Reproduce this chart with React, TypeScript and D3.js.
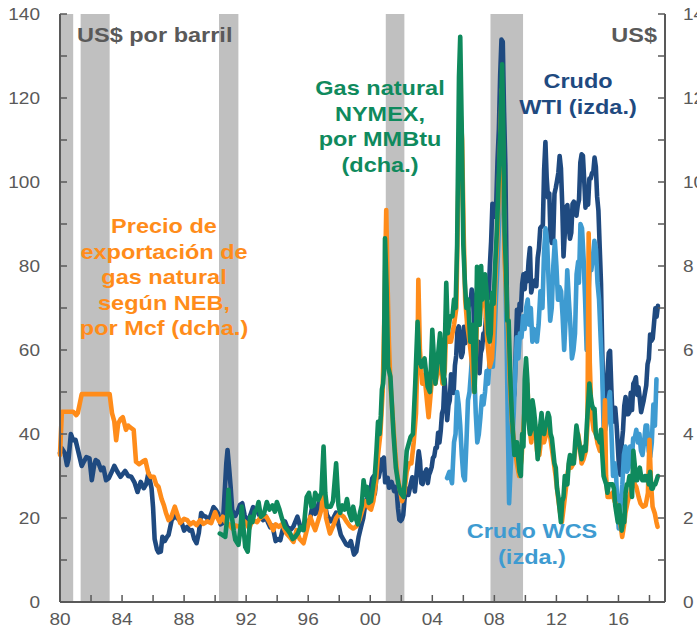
import React from "react";
import * as d3 from "d3";

// ---------- DATA ----------
// WTI crude, US$/bbl (left axis)
const wtiEarly: [number, number][] = [
  [1980.0,35.5],[1980.1,36.7],[1980.3,35.5],[1980.45,32.6],[1980.55,34],[1980.7,40],[1980.85,38.5],[1981.0,38.6],
  [1981.2,35.5],[1981.4,32.4],[1981.55,33.5],[1981.7,34.5],[1981.9,34.2],[1982.05,29],[1982.2,32.5],[1982.3,33.8],
  [1982.45,33.4],[1982.65,31.4],[1982.8,32],[1982.97,29],[1983.15,29.5],[1983.3,30.7],[1983.5,32.4],[1983.7,31],
  [1983.9,29.8],[1984.05,30.5],[1984.2,31.2],[1984.4,30],[1984.6,29.8],[1984.8,28.5],[1985.0,26.2],[1985.2,28.6],
  [1985.4,27.1],[1985.55,28],[1985.7,30.7],[1985.9,27.1],[1986.0,22.5],[1986.1,15],[1986.25,12.5],[1986.35,11.8],
  [1986.5,12],[1986.6,15.5],[1986.75,14.5],[1986.9,15.5],[1987.0,16],[1987.2,19.5],[1987.4,20.5],[1987.55,20],
  [1987.7,19.5],[1987.85,18.8],[1988.0,17],[1988.2,17.9],[1988.35,17],[1988.5,17.1],[1988.65,15],[1988.8,14],
  [1988.95,16.5],[1989.1,21.2],[1989.25,20.5],[1989.4,20.3],[1989.6,19.5],[1989.75,21],[1989.9,22.6],[1990.05,21.9],
  [1990.2,21],[1990.35,18.5],[1990.5,18.8],[1990.6,25],[1990.72,33],[1990.8,36.2],[1990.9,32],[1991.0,27.4],
  [1991.1,21.9],[1991.3,20.5],[1991.45,21.5],[1991.6,23.1],[1991.75,23.5],[1991.9,20.7],[1992.05,18.8],[1992.15,19.5],
  [1992.3,21],[1992.45,22.6],[1992.6,21.8],[1992.75,21.4],[1992.9,20.3],[1993.1,19.5],[1993.25,20.5],[1993.4,19],
  [1993.55,17.8],[1993.7,18.2],[1993.9,14.5],[1994.05,15],[1994.2,14.7],[1994.4,18],[1994.5,19.2],[1994.65,17.8],
  [1994.9,17.3],[1995.05,18],[1995.3,20.3],[1995.5,17.8],[1995.6,17.3],[1995.8,17.8],[1995.95,19.2],[1996.1,19.5],
  [1996.3,23.5],[1996.45,21],[1996.55,21.3],[1996.75,24.8],[1996.9,25.3],[1997.0,25],[1997.2,20.8],[1997.45,19.2],
  [1997.6,19.8],[1997.8,21.3],[1997.95,18.3],[1998.1,16],[1998.25,15],[1998.45,13.7],[1998.6,13.4],[1998.75,14.5],
  [1998.95,11.3],[1999.1,12],[1999.25,15.5],[1999.4,17.8],[1999.55,20],[1999.7,23.9],[1999.85,25],
];
// WTI monthly from Jan 2000
const wtiMonthlyFrom2000: number[] = [
  27.3,29.4,29.9,25.7,28.8,31.8,29.7,31.2,33.9,33.1,34.4,28.5,
  29.6,29.6,27.2,27.4,28.6,27.6,26.4,27.4,26.2,22.2,19.6,19.3,
  19.7,20.7,24.4,26.2,27.0,25.5,26.9,28.4,29.7,28.9,26.3,29.4,
  32.9,35.9,33.6,28.3,28.1,30.7,30.8,31.6,28.3,30.3,31.1,32.1,
  34.3,34.7,36.7,36.7,40.3,38.0,40.7,44.9,45.9,53.1,48.5,43.3,
  46.8,48.0,54.2,53.0,49.8,56.3,58.7,65.0,65.6,62.4,58.3,59.4,
  65.5,61.6,62.9,69.7,70.9,71.0,74.4,73.0,63.8,58.9,59.1,62.0,
  54.5,59.3,60.4,63.9,63.5,67.5,74.1,72.4,79.9,85.8,94.8,91.7,
  93.0,95.4,105.5,112.6,125.4,133.9,133.4,116.7,104.1,76.6,57.3,41.1,
  41.7,39.1,47.9,49.6,59.0,69.6,64.1,71.0,69.4,75.7,78.0,74.5,
  78.3,76.4,81.2,84.3,73.7,75.3,76.3,76.6,75.2,81.9,84.2,89.0,
  89.4,89.6,102.9,109.5,100.9,96.3,97.3,86.3,85.5,86.3,97.2,98.6,
  100.3,102.2,106.2,103.3,94.7,82.3,87.9,94.1,94.5,89.5,86.5,87.9,
  94.8,95.3,92.9,92.0,94.5,95.8,104.6,106.6,106.3,100.5,93.9,97.6,
  94.6,100.8,100.8,102.1,102.2,105.8,103.6,96.5,93.2,84.4,75.8,59.3,
  47.2,50.6,47.8,54.5,59.3,59.8,50.9,42.9,45.5,46.2,42.4,37.2,
  31.7,30.3,37.6,40.8,46.7,48.8,44.7,44.7,45.2,49.8,45.7,52.0,
  52.5,53.5,49.3,51.1,48.5,45.2,46.6,48.0,49.8,51.6,56.6,57.9,
  63.7,62.2,62.7,66.3,69.9,67.9,70.5,
];

// WCS crude, US$/bbl (left axis)
const wcs: [number, number][] = [
  [2004.95,29.5],[2005.1,31],[2005.27,28.3],[2005.4,38],[2005.5,40],[2005.6,50],[2005.7,47],[2005.8,42],[2005.9,35],
  [2006.0,30],[2006.1,29],[2006.2,38],[2006.3,48],[2006.4,50],[2006.5,55],[2006.6,62],[2006.7,56],[2006.8,45],
  [2006.9,38],[2007.0,40],[2007.1,44],[2007.2,49],[2007.3,47],[2007.4,50],[2007.5,55],[2007.6,52],[2007.7,58],
  [2007.8,60],[2007.9,56],[2008.0,62],[2008.1,72],[2008.2,80],[2008.3,90],[2008.4,100],[2008.5,104],[2008.6,95],
  [2008.7,80],[2008.8,60],[2008.87,42],[2008.95,23.5],[2009.05,32],[2009.15,38],[2009.25,45],[2009.35,55],
  [2009.45,63],[2009.55,58],[2009.65,64],[2009.75,63],[2009.85,68],[2009.95,65],[2010.05,70],[2010.15,72],
  [2010.25,66],[2010.35,70],[2010.45,62],[2010.55,65],[2010.65,64],[2010.75,62],[2010.85,66],[2010.97,74],
  [2011.1,70],[2011.2,83],[2011.3,89],[2011.4,86],[2011.5,76],[2011.6,67],[2011.7,70],[2011.8,80],[2011.9,86],
  [2012.0,80],[2012.1,72],[2012.2,75],[2012.3,74],[2012.4,68],[2012.5,60],[2012.6,68],[2012.7,79],[2012.8,72],
  [2012.9,66],[2013.0,58],[2013.1,60],[2013.2,64],[2013.3,78],[2013.4,81],[2013.45,76],[2013.55,90],[2013.65,89],
  [2013.75,82],[2013.85,72],[2013.95,60],[2014.05,72],[2014.15,80],[2014.25,79],[2014.35,82],[2014.45,86],
  [2014.55,84],[2014.65,76],[2014.75,72],[2014.85,63],[2014.95,55],[2015.05,40],[2015.15,41],[2015.25,43],
  [2015.35,48],[2015.45,50],[2015.55,40],[2015.65,30],[2015.75,33],[2015.85,30],[2015.95,21],[2016.02,17.5],
  [2016.15,23.5],[2016.25,28],[2016.35,35],[2016.45,37],[2016.55,31],[2016.65,32],[2016.75,37],[2016.85,33],
  [2016.95,39],[2017.05,39],[2017.15,41],[2017.25,38],[2017.35,40],[2017.45,36],[2017.55,35],[2017.65,38],
  [2017.75,42],[2017.85,42],[2017.95,36],[2018.05,34.6],[2018.15,38],[2018.25,47],[2018.35,42],[2018.45,53],
];

// NYMEX natural gas, US$/MMBtu (right axis)
const nymexEarly: [number, number][] = [
  [1990.3,1.63],[1990.45,1.6],[1990.65,1.55],[1990.78,2.0],[1990.86,2.67],[1990.95,2.2],[1991.08,2.03],[1991.2,1.7],
  [1991.3,1.48],[1991.5,1.36],[1991.62,1.7],[1991.72,2.27],[1991.82,1.8],[1991.94,1.31],[1992.1,1.2],[1992.26,2.03],
  [1992.4,1.9],[1992.55,2.15],[1992.68,2.2],[1992.8,2.38],[1992.95,2.03],[1993.15,2.1],[1993.33,2.38],[1993.5,2.2],
  [1993.7,2.3],[1993.85,2.15],[1993.98,2.38],[1994.15,2.2],[1994.3,2.0],[1994.5,1.79],[1994.7,1.7],[1994.84,1.63],
  [1995.0,1.5],[1995.16,1.55],[1995.35,1.65],[1995.5,1.79],[1995.7,1.71],[1995.9,2.5],[1996.05,2.6],[1996.2,2.27],
  [1996.35,2.3],[1996.45,2.6],[1996.65,2.43],[1996.85,2.6],[1996.99,3.7],[1997.1,2.6],[1997.2,2.27],[1997.45,2.27],
  [1997.6,2.4],[1997.8,3.3],[1997.95,2.3],[1998.06,2.12],[1998.2,2.3],[1998.35,2.2],[1998.5,2.45],[1998.65,2.12],
  [1998.8,1.95],[1998.9,2.27],[1999.03,2.03],[1999.2,1.85],[1999.35,2.15],[1999.45,2.3],[1999.57,2.9],[1999.7,2.55],
  [1999.8,2.74],[1999.9,2.36],[2000.05,2.4],[2000.2,2.8],[2000.3,3.04],[2000.4,3.6],[2000.5,4.29],[2000.6,4.0],
  [2000.68,4.43],[2000.75,5.06],[2000.83,5.2],[2000.88,5.5],[2000.95,8.66],[2001.05,7.5],[2001.15,5.6],[2001.3,5.36],
  [2001.5,4.0],[2001.65,3.2],[2001.8,2.83],[2001.95,2.6],[2002.15,2.5],[2002.35,3.6],[2002.6,3.93],[2002.75,4.0],
  [2002.9,5.2],[2003.05,6.67],[2003.15,5.8],[2003.3,5.6],[2003.5,5.8],[2003.7,5.13],[2003.85,5.0],[2004.0,6.48],
  [2004.2,5.2],[2004.35,5.8],[2004.5,6.4],[2004.65,5.5],[2004.75,5.2],[2004.9,7.6],[2005.0,6.4],[2005.15,6.8],
  [2005.3,6.8],[2005.4,7.2],[2005.5,7.0],[2005.6,8.5],[2005.72,12.5],[2005.8,13.46],[2005.9,11.2],[2006.0,8.5],
  [2006.1,7.6],[2006.2,7.0],[2006.3,7.2],[2006.45,6.2],[2006.6,6.6],[2006.72,5.0],[2006.8,5.8],[2006.88,7.98],
  [2006.97,6.88],[2007.05,6.6],[2007.15,8.0],[2007.22,7.2],[2007.32,7.6],[2007.4,7.8],[2007.5,7.4],[2007.6,6.4],
  [2007.7,6.2],[2007.77,6.4],[2007.85,7.36],[2007.95,7.1],[2008.05,8.0],[2008.17,8.9],[2008.3,10.3],[2008.4,11.3],
  [2008.5,12.8],[2008.58,11.2],[2008.66,8.8],[2008.75,7.9],[2008.83,6.7],[2008.92,6.7],[2008.99,5.8],
];
// NYMEX monthly from Jan 2009
const nymexMonthlyFrom2009: number[] = [
  5.2,4.5,4.0,3.5,3.8,3.8,3.4,3.1,3.0,4.0,3.7,5.3,
  5.8,5.3,4.3,4.0,4.1,4.8,4.6,4.3,3.9,3.4,3.7,4.2,
  4.5,4.1,4.0,4.2,4.3,4.5,4.4,4.0,3.9,3.6,3.3,3.2,
  2.7,2.5,2.2,1.9,2.4,2.5,3.0,2.8,2.8,3.3,3.5,3.3,
  3.3,3.3,3.8,4.2,4.0,3.8,3.6,3.4,3.6,3.7,3.6,4.2,
  4.7,5.2,4.9,4.7,4.6,4.6,4.0,3.9,3.9,3.8,4.1,3.5,
  3.0,2.9,2.8,2.6,2.8,2.8,2.8,2.8,2.7,2.3,2.1,1.9,
  2.3,2.0,1.7,1.9,1.9,2.6,2.8,2.8,3.0,3.0,2.5,3.6,
  3.3,2.9,2.9,3.1,3.2,3.0,2.9,2.9,3.0,2.9,3.0,2.8,
  3.1,2.7,2.7,2.8,2.8,2.9,3.0,
];

// NEB natural gas export price, US$/Mcf (right axis)
const neb: [number, number][] = [
  [1980.0,3.5],[1980.12,4.53],[1980.85,4.53],[1981.05,4.45],[1981.15,4.5],[1981.4,4.95],[1983.2,4.95],[1983.35,4.5],
  [1983.5,4.3],[1983.62,3.85],[1983.75,4.25],[1983.9,4.35],[1984.05,4.4],[1984.25,4.1],[1984.4,4.2],[1984.55,4.15],
  [1984.75,4.1],[1984.9,3.34],[1985.1,3.28],[1985.35,3.35],[1985.5,3.38],[1985.7,3.06],[1985.85,2.98],[1986.05,2.98],
  [1986.2,2.8],[1986.35,2.74],[1986.55,2.45],[1986.7,2.3],[1986.85,2.1],[1987.0,1.95],[1987.15,2.0],[1987.4,2.27],
  [1987.55,2.1],[1987.75,1.88],[1988.0,1.98],[1988.2,1.95],[1988.4,1.85],[1988.6,1.9],[1988.8,1.83],[1989.03,1.95],
  [1989.25,1.86],[1989.5,1.92],[1989.75,1.88],[1990.0,2.14],[1990.15,2.0],[1990.3,1.9],[1990.5,2.03],[1990.7,1.88],
  [1990.9,1.85],[1991.1,1.75],[1991.3,1.82],[1991.6,1.79],[1991.8,1.95],[1992.0,1.88],[1992.2,1.75],[1992.4,1.95],
  [1992.7,1.9],[1992.9,2.0],[1993.1,2.05],[1993.3,2.03],[1993.5,1.9],[1993.75,1.71],[1993.9,1.85],[1994.1,1.79],
  [1994.3,1.85],[1994.6,1.63],[1994.8,1.55],[1995.05,1.43],[1995.25,1.71],[1995.45,1.5],[1995.7,1.4],[1995.9,1.7],
  [1996.13,2.03],[1996.3,1.85],[1996.45,1.71],[1996.65,1.95],[1996.85,2.2],[1997.0,2.8],[1997.15,2.0],[1997.4,1.63],
  [1997.6,1.8],[1997.8,2.0],[1998.0,2.1],[1998.28,2.03],[1998.5,1.9],[1998.7,1.8],[1998.9,1.75],[1999.1,1.8],
  [1999.3,1.95],[1999.5,2.2],[1999.7,2.4],[1999.9,2.25],[2000.05,2.2],[2000.2,2.4],[2000.35,2.8],[2000.5,3.5],
  [2000.65,4.0],[2000.8,5.0],[2000.92,7.0],[2001.03,9.33],[2001.12,7.5],[2001.2,6.2],[2001.3,5.2],[2001.45,4.4],
  [2001.6,3.6],[2001.75,3.0],[2001.9,2.7],[2002.05,2.4],[2002.2,2.6],[2002.35,3.1],[2002.5,3.3],[2002.65,3.3],
  [2002.8,3.8],[2002.95,4.5],[2003.05,6.0],[2003.1,7.67],[2003.2,6.0],[2003.35,5.2],[2003.5,5.4],[2003.65,4.8],
  [2003.76,4.4],[2003.95,5.2],[2004.05,5.8],[2004.2,5.2],[2004.35,5.5],[2004.5,6.0],[2004.65,5.2],[2004.8,5.5],
  [2004.92,6.8],[2005.05,6.2],[2005.2,6.2],[2005.4,6.6],[2005.55,7.0],[2005.68,10.0],[2005.8,11.8],[2005.92,11.0],
  [2006.02,8.8],[2006.12,7.2],[2006.25,6.6],[2006.4,6.2],[2006.55,5.7],[2006.7,5.0],[2006.82,6.0],[2006.92,7.2],
  [2007.05,6.6],[2007.2,7.4],[2007.4,7.2],[2007.55,6.2],[2007.7,5.6],[2007.85,5.8],[2007.95,6.6],[2008.08,7.8],
  [2008.2,8.8],[2008.35,10.6],[2008.47,12.2],[2008.56,10.8],[2008.66,8.2],[2008.78,7.2],[2008.9,6.4],[2009.0,5.2],
  [2009.15,4.2],[2009.3,3.7],[2009.45,3.3],[2009.6,3.0],[2009.75,3.4],[2009.88,4.2],[2010.02,5.0],[2010.12,5.2],
  [2010.25,4.2],[2010.38,3.8],[2010.5,4.4],[2010.62,4.2],[2010.75,3.6],[2010.9,3.5],[2011.05,4.0],[2011.2,3.8],
  [2011.35,4.0],[2011.5,4.2],[2011.65,3.8],[2011.8,3.4],[2011.95,3.0],[2012.1,2.5],[2012.25,2.1],[2012.35,1.9],
  [2012.45,2.2],[2012.58,2.6],[2012.7,3.0],[2012.82,3.3],[2012.95,3.2],[2013.1,3.3],[2013.25,3.7],[2013.4,4.0],
  [2013.52,3.7],[2013.62,3.3],[2013.75,3.4],[2013.9,3.6],[2014.0,4.2],[2014.08,8.78],[2014.15,5.7],[2014.25,4.5],
  [2014.4,4.1],[2014.55,4.0],[2014.65,3.78],[2014.8,3.6],[2014.95,3.8],[2015.08,4.2],[2015.13,4.8],[2015.2,3.0],
  [2015.3,2.5],[2015.45,2.5],[2015.6,2.6],[2015.75,2.4],[2015.91,2.27],[2016.05,2.0],[2016.15,1.8],[2016.24,1.55],
  [2016.35,1.8],[2016.45,2.12],[2016.6,2.4],[2016.77,2.6],[2016.92,3.0],[2017.05,2.8],[2017.15,2.74],[2017.3,2.5],
  [2017.42,2.35],[2017.58,2.27],[2017.75,2.3],[2017.9,2.6],[2018.0,3.86],[2018.1,2.8],[2018.2,2.27],[2018.35,2.1],
  [2018.45,1.9],[2018.52,1.79],
];

// Recession bands (years)
const recessions: [number, number][] = [
  [1980.0, 1980.85], [1981.33, 1983.2], [1990.25, 1991.5], [2001.0, 2002.2], [2007.75, 2009.85],
];

// Axis ticks
const leftTickValues = [0, 20, 40, 60, 80, 100, 120, 140];
const leftMinorValues = [0, 10, 20, 30, 40, 50, 60, 70, 80, 90, 100, 110, 120, 130, 140];
const rightTickValues = [0, 2, 4, 6, 8, 10, 12, 14];
const xLabelYears = [1980, 1984, 1988, 1992, 1996, 2000, 2004, 2008, 2012, 2016];
const xLabels = ["80", "84", "88", "92", "96", "00", "04", "08", "12", "16"];
const xTickYears = [1980, 1982, 1984, 1986, 1988, 1990, 1992, 1994, 1996, 1998, 2000, 2002, 2004, 2006, 2008, 2010, 2012, 2014, 2016, 2018];

// Labels
const leftUnit = "US$ por barril";
const rightUnit = "US$";
const nymexLabel = ["Gas natural", "NYMEX,", "por MMBtu", "(dcha.)"];
const wtiLabel = ["Crudo", "WTI (izda.)"];
const nebLabel = ["Precio de", "exportación de", "gas natural", "según NEB,", "por Mcf (dcha.)"];
const wcsLabel = ["Crudo WCS", "(izda.)"];

// ---------- CHART ----------
const C = {
  axis: "#595959",
  band: "#C0C0C0",
  wti: "#1F4A80",
  wcs: "#3E9BD1",
  neb: "#FF8C1A",
  nymex: "#0F8A5D",
};
const SX = 1.12; // horizontal text stretch as in reference

export default function App() {
  const x = d3.scaleLinear().domain([1980, 2019]).range([60, 665]);
  const yL = d3.scaleLinear().domain([0, 140]).range([602, 14]);
  const yR = d3.scaleLinear().domain([0, 14]).range([602, 14]);

  const wti: [number, number][] = [
    ...wtiEarly,
    ...wtiMonthlyFrom2000.map((v, i) => [2000 + (i + 0.5) / 12, v] as [number, number]),
  ];
  const nymex: [number, number][] = [
    ...nymexEarly,
    ...nymexMonthlyFrom2009.map((v, i) => [2009 + (i + 0.5) / 12, v] as [number, number]),
  ];

  const lineL = d3.line<[number, number]>().x((d) => x(d[0])).y((d) => yL(d[1]));
  const lineR = d3.line<[number, number]>().x((d) => x(d[0])).y((d) => yR(d[1]));

  const T = (
    key: string | number,
    tx: number,
    ty: number,
    s: string,
    opts: { anchor?: string; size?: number; bold?: boolean; fill?: string } = {}
  ) => (
    <text
      key={key}
      transform={`translate(${tx},${ty}) scale(${SX},1)`}
      textAnchor={opts.anchor || "start"}
      fontSize={opts.size || 17}
      fontWeight={opts.bold ? "bold" : "normal"}
      fill={opts.fill || C.axis}
    >
      {s}
    </text>
  );

  const lh = 25.5;
  const lw = 4.6;

  return (
    <svg
      width={697}
      height={630}
      style={{ position: "absolute", left: 0, top: 0, background: "#fff", fontFamily: '"Liberation Sans", Arial, sans-serif' }}
    >
      {/* recession bands */}
      {recessions.map(([a, b], i) => (
        <rect key={i} x={x(a)} y={yL(140)} width={x(b) - x(a)} height={yL(0) - yL(140)} fill={C.band} />
      ))}

      {/* series */}
      <g fill="none" strokeLinejoin="round" strokeLinecap="round" strokeWidth={lw}>
        <path d={lineL(wti) || ""} stroke={C.wti} />
        <path d={lineL(wcs) || ""} stroke={C.wcs} />
        <path d={lineR(neb) || ""} stroke={C.neb} />
        <path d={lineR(nymex) || ""} stroke={C.nymex} />
      </g>

      {/* axes */}
      <g stroke={C.axis} fill="none">
        <line x1={x(1980)} x2={x(1980)} y1={yL(140)} y2={yL(0)} strokeWidth={2} />
        <line x1={x(2019)} x2={x(2019)} y1={yL(140)} y2={yL(0)} strokeWidth={2} />
        <line x1={x(1980)} x2={x(2019)} y1={yL(0)} y2={yL(0)} strokeWidth={2} />
        {leftMinorValues.map((v) => (
          <line key={"l" + v} x1={x(1980)} x2={x(1980) + 7} y1={yL(v)} y2={yL(v)} strokeWidth={1.5} />
        ))}
        {leftMinorValues.map((v) => (
          <line key={"r" + v} x1={x(2019)} x2={x(2019) - 7} y1={yL(v)} y2={yL(v)} strokeWidth={1.5} />
        ))}
        {xTickYears.map((t) => (
          <line key={"x" + t} x1={x(t)} x2={x(t)} y1={yL(0)} y2={yL(0) - 7} strokeWidth={1.5} />
        ))}
      </g>

      {/* tick labels */}
      {leftTickValues.map((v) => T("lt" + v, 40, yL(v) + 6, String(v), { anchor: "end" }))}
      {rightTickValues.map((v) => T("rt" + v, 683, yR(v) + 6, String(v), { anchor: "start" }))}
      {xLabelYears.map((t, i) => T("xt" + t, x(t), 625, xLabels[i], { anchor: "middle" }))}

      {/* unit labels */}
      {T("lu", 77, 42, leftUnit, { bold: true, size: 21 })}
      {T("ru", 657, 42, rightUnit, { bold: true, size: 21, anchor: "end" })}

      {/* series labels */}
      {nymexLabel.map((s, i) => T("ny" + i, 380, 95 + i * lh, s, { bold: true, size: 21, anchor: "middle", fill: C.nymex }))}
      {wtiLabel.map((s, i) => T("wt" + i, 578, 88 + i * lh, s, { bold: true, size: 21, anchor: "middle", fill: C.wti }))}
      {nebLabel.map((s, i) => T("nb" + i, 164, 233 + i * lh, s, { bold: true, size: 21, anchor: "middle", fill: C.neb }))}
      {wcsLabel.map((s, i) => T("wc" + i, 532, 538 + i * lh, s, { bold: true, size: 21, anchor: "middle", fill: C.wcs }))}
    </svg>
  );
}
